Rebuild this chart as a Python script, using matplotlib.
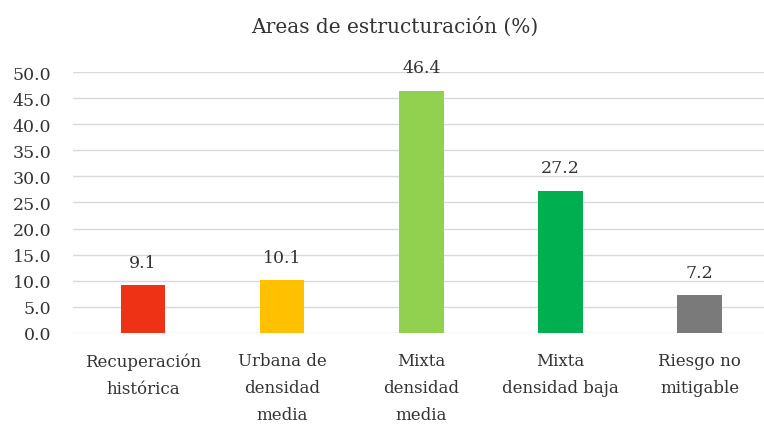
import matplotlib.pyplot as plt

categories = ["Recuperación\nhistórica", "Urbana de\ndensidad\nmedia", "Mixta\ndensidad\nmedia",
              "Mixta\ndensidad baja", "Riesgo no\nmitigable"]
values = [9.1, 10.1, 46.4, 27.2, 7.2]
colors = ["#EE3216", "#FFC000", "#92D050", "#00B050", "#7A7A7A"]
yticks = [0, 5, 10, 15, 20, 25, 30, 35, 40, 45, 50]

plt.rcParams["font.family"] = ["DejaVu Serif"]

fig = plt.figure(figsize=(7.64, 4.27), dpi=100)
# category slots are ~139 px wide, last slot runs a little past the right edge
ax = fig.add_axes([0.096, 0.218, 0.911, 0.611])

x = range(len(categories))
ax.bar(x, values, width=0.32, color=colors, zorder=2)
for i, v in zip(x, values):
    ax.text(i, v + 2.8, f"{v:.1f}", ha="center", va="bottom", fontsize=12.5, color="#333333")

ax.set_ylim(0, 50)
ax.set_xlim(-0.5, len(categories) - 0.5)
ax.set_yticks(yticks)
ax.set_yticklabels([f"{t:.1f}" for t in yticks], fontsize=12.5, color="#333333")
ax.set_xticks(list(x))
ax.set_xticklabels(categories, fontsize=12, color="#333333", linespacing=1.75)
ax.tick_params(axis="both", length=0)
ax.tick_params(axis="x", pad=14)
ax.tick_params(axis="y", pad=16)

ax.grid(axis="y", color="#D9D9D9", linewidth=1, zorder=0)
for s in ax.spines.values():
    s.set_visible(False)

fig.text(0.517, 0.937, "Areas de estructuración (%)", ha="center", va="center", fontsize=14.5, color="#333333")

fig.savefig("out.png", dpi=100)
